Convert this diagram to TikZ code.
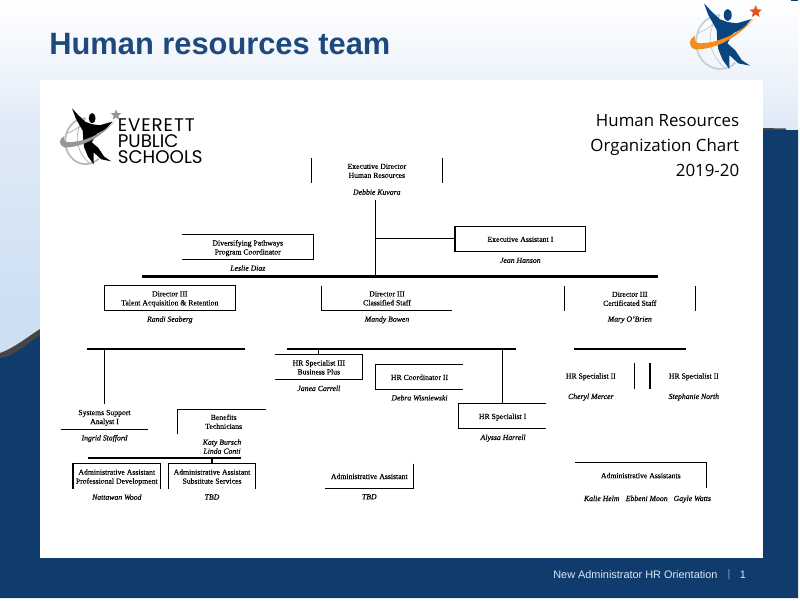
\documentclass[tikz,border=0pt]{standalone}
\usepackage{fontspec}
\usepackage{tikz}
\usetikzlibrary{calc,shapes.geometric}
\setmainfont{Liberation Serif}[FakeBold=0.25]
\newfontfamily\slidefont{Liberation Sans}
\newfontfamily\chartfont{Open Sans}
\newfontfamily\logofont{Poppins}

\definecolor{slideblue}{RGB}{15,60,108}
\definecolor{titleblue}{RGB}{31,73,125}
\definecolor{bandgrey}{RGB}{70,70,72}
\definecolor{footerwhite}{RGB}{222,232,244}
\definecolor{footerbar}{RGB}{110,165,220}
\definecolor{logoblue}{RGB}{10,70,125}
\definecolor{logoorange}{RGB}{245,140,30}
\definecolor{logostar}{RGB}{225,85,35}
\definecolor{globegrey}{RGB}{195,207,218}
\definecolor{sheetgrey}{RGB}{185,185,185}
\definecolor{inkgrey}{RGB}{150,150,150}
\definecolor{skyA}{RGB}{205,224,243}
\definecolor{skyB}{RGB}{224,234,246}
\definecolor{skyC}{RGB}{237,243,251}

\pgfdeclareverticalshading{slidesky}{100bp}{
  color(0bp)=(skyA);
  color(33bp)=(skyA);
  color(58bp)=(skyB);
  color(64bp)=(skyC);
  color(75bp)=(white);
  color(100bp)=(white)}

\tikzset{
  orgline/.style={black,line width=0.65pt},
  mainbar/.style={black,line width=1.7pt},
  subbar/.style={black,line width=1.2pt},
  orgbox/.style={minimum width=2.6cm,minimum height=0.49cm,inner sep=0pt,align=center,
    text depth=0pt,font=\fontsize{4.4}{5.1}\selectfont},
  smallbox/.style={orgbox,minimum width=1.74cm},
  person/.style={inner sep=0pt,align=center,text depth=0pt,
    font=\fontsize{4.4}{5.1}\selectfont\itshape}
}

% Logo mark: figure, swoosh, globe
\newcommand{\logomark}[3]{
  \draw[#3,line width=1pt] (16,12) arc[start angle=270,end angle=50,x radius=24,y radius=27];
  \draw[#3,line width=0.5pt] (16,12) .. controls (2,25) and (2,50) .. (22,66);
  \draw[#3,line width=0.5pt] (-6,30) .. controls (4,26) and (10,22) .. (16,12);
  \fill[#1] (23.7,12) ellipse (4 and 6);
  \fill[#1] (0,0.3) -- (7.7,8.7) -- (16,16.3) -- (23.3,19) -- (32.7,20.3) -- (47.7,16)
    -- (39.3,25.3) -- (29.3,30.3) -- (23.3,40.3) -- (31,47) -- (37.7,57) -- (46,62.7)
    -- (34.3,60.3) -- (25.3,52) -- (25.3,66) -- (18.7,57) -- (14.3,46.3) -- (13.3,38.7)
    -- (12.7,27) -- (4.3,12) -- cycle;
  \fill[#2] (-9,33) .. controls (-16,36) and (-16,44) .. (-9,46.3)
    .. controls (15,47) and (38,30) .. (50.3,15.3)
    .. controls (36,30) and (15,40) .. (-4,40.3)
    .. controls (-9,40) and (-10,37) .. (-9,33) -- cycle;
}

\begin{document}
\begin{tikzpicture}[x=0.02cm,y=-0.02cm]

\useasboundingbox (0,0) rectangle (800,600);

% Slide background
\shade[shading=slidesky] (0,0) rectangle (798,360);
\fill[bandgrey] (0,353) .. controls (14,348) and (26,338) .. (40,329) -- (300,200)
  -- (763,128) -- (786,128.5) -- (786,140) -- (0,370) -- cycle;
\fill[slideblue] (0,358) .. controls (14,357) and (26,344) .. (40,335.5) -- (300,205)
  -- (763,130) -- (798,130) -- (798,598) -- (0,598) -- cycle;
\fill[slideblue] (791,0) rectangle (798,1);

% Slide title and footer
\node[anchor=west,inner sep=0pt,text=titleblue,font=\slidefont\bfseries\fontsize{17.55}{20}\selectfont]
  (slideTitle) at (49,44.5) {Human resources team};
\node[anchor=west,inner sep=0pt,text=footerwhite,font=\slidefont\fontsize{6.2}{7}\selectfont]
  (footerText) at (553,575) {New Administrator HR Orientation};
\node[inner sep=0pt,text=footerbar,font=\slidefont\fontsize{6.2}{7}\selectfont]
  (footerBar) at (729,575) {|};
\node[inner sep=0pt,text=footerwhite,font=\slidefont\fontsize{6.2}{7}\selectfont]
  (footerPage) at (743,575) {1};

% Slide logo
\begin{scope}[shift={(704,3)}]
\logomark{logoblue}{logoorange}{globegrey}
\end{scope}
\node[star,star points=5,star point ratio=2.2,fill=logostar,minimum size=0.26cm,inner sep=0pt]
  (slideStar) at (755.7,11.7) {};

% Chart sheet
\fill[white] (40,80) rectangle (763,558);

% Sheet logo
\begin{scope}[shift={(72,108)},scale=0.85]
\logomark{black}{inkgrey}{sheetgrey}
\end{scope}
\node[star,star points=5,star point ratio=2.2,fill=inkgrey,minimum size=0.22cm,inner sep=0pt]
  (sheetStar) at (116,115) {};
\node[anchor=west,inner sep=0pt,font=\logofont\fontsize{10.4}{10}\addfontfeature{LetterSpace=5}\selectfont] (logoA) at (117.5,125) {EVERETT};
\node[anchor=west,inner sep=0pt,font=\logofont\fontsize{10.4}{10}\selectfont] (logoB) at (117.5,141.5) {PUBLIC};
\node[anchor=west,inner sep=0pt,font=\logofont\fontsize{10.4}{10}\selectfont] (logoC) at (117.5,157.5) {SCHOOLS};

% Sheet heading
\node[anchor=north east,inner sep=0pt,align=right,font=\chartfont\fontsize{9.6}{14.2}\selectfont]
  (sheetTitle) at (739.5,114) {Human Resources\\Organization Chart\\2019-20};

% Bars
\coordinate (mainL) at (142,276.3);
\coordinate (mainR) at (658,276.3);
\coordinate (talentL) at (87,349);
\coordinate (talentR) at (245,349);
\coordinate (classL) at (287,349);
\coordinate (classR) at (516,349);
\coordinate (certL) at (574,349);
\coordinate (certR) at (686,349);
\coordinate (adminL) at (88,457.7);
\coordinate (adminR) at (241,457.7);
\draw[mainbar] (mainL)--(mainR);
\draw[subbar] (talentL)--(talentR);
\draw[subbar] (classL)--(classR);
\draw[subbar] (certL)--(certR);
\draw[subbar] (adminL)--(adminR);

% Executive level
\node[orgbox] (execDir) at (376.8,170.8) {Executive Director\\Human Resources};
\node[person] (execName) at (376.8,192) {Debbie Kuvara};
\node[orgbox] (execAsst) at (520.3,239.3) {Executive Assistant I};
\node[person] (asstName) at (520.3,260.3) {Jean Hanson};
\node[orgbox] (pathways) at (247.8,247.3) {Diversifying Pathways\\Program Coordinator};
\node[person] (pathName) at (247.8,268) {Leslie Diaz};
\coordinate (execDrop) at (375.3,200);
\coordinate (execJoin) at (375.3,238.3);
\draw[orgline] (execDir.north west)--(execDir.south west);
\draw[orgline] (execDir.north east)--(execDir.south east);
\draw[orgline] (execAsst.north west) rectangle (execAsst.south east);
\draw[orgline] (pathways.north west)--(pathways.north east)--(pathways.south east)--(pathways.south west);
\draw[orgline] (execDrop)--(execDrop |- mainL);
\draw[orgline] (execJoin)--(execJoin -| execAsst.west);

% Directors
\node[orgbox] (dirTalent) at (169.8,298.3) {Director III\\Talent Acquisition \& Retention};
\node[person] (talentName) at (169.8,319) {Randi Seaberg};
\node[orgbox] (dirClass) at (387,298.3) {Director III\\Classified Staff};
\node[person] (className) at (387,319) {Mandy Bowen};
\node[orgbox] (dirCert) at (629.8,298.8) {Director III\\Certificated Staff};
\node[person] (certName) at (629.8,319) {Mary O'Brien};
\draw[orgline] (dirTalent.north west) rectangle (dirTalent.south east);
\draw[orgline] (dirClass.north west)--(dirClass.south west)--(dirClass.south east);
\draw[orgline] (dirCert.north west)--(dirCert.south west);
\draw[orgline] (dirCert.north east)--(dirCert.south east);

% Talent acquisition staff
\node[smallbox] (sysSupport) at (104.5,417) {Systems Support\\Analyst I};
\node[person] (sysName) at (104.5,437.7) {Ingrid Stafford};
\node[smallbox] (benefits) at (221.7,421.7) {\hspace*{1.1ex}Benefits\\\hspace*{1.1ex}Technicians};
\node[person] (benefitsName) at (222,446.5) {Katy Bursch\\Linda Conti};
\node[smallbox] (adminPro) at (116.8,476.5) {Administrative Assistant\\Professional Development};
\node[person] (proName) at (116.8,497) {Nattawan Wood};
\node[smallbox] (adminSub) at (212,476.5) {Administrative Assistant\\Substitute Services};
\node[person] (subName) at (212,497) {TBD};
\draw[orgline] (sysSupport.north |- talentL)--(sysSupport.north);
\draw[orgline] (sysSupport.south west)--(sysSupport.south east);
\draw[orgline] (benefits.south west)--(benefits.north west)--(benefits.north east);
\draw[orgline] (adminSub.north |- adminL)--(adminSub.north);
\draw[orgline] (adminPro.south west)--(adminPro.north west)--(adminPro.north east)--(adminPro.south east);
\draw[orgline] (adminSub.south west)--(adminSub.north west)--(adminSub.north east)--(adminSub.south east);

% Classified staff
\node[smallbox] (specThree) at (318.8,367.3) {HR Specialist III\\Business Plus};
\node[person] (specThreeName) at (318.8,388.3) {Janea Carrell};
\node[smallbox] (coord) at (419.5,377.3) {HR Coordinator II};
\node[person] (coordName) at (419.5,397.7) {Debra Wisniewski};
\node[smallbox] (specOne) at (502.6,416.3) {HR Specialist I};
\node[person] (specOneName) at (503.1,437.3) {Alyssa Harrell};
\node[smallbox] (adminClass) at (369.3,476.3) {Administrative Assistant};
\node[person] (adminClassName) at (369.3,496.7) {TBD};
\draw[orgline] (specThree.north |- classL)--(specThree.north);
\draw[orgline] (specThree.north west)--(specThree.north east)--(specThree.south east)--(specThree.south west);
\draw[orgline] (coord.north east)--(coord.north west)--(coord.south west)--(coord.south east);
\draw[orgline] (specOne.north |- classL)--(specOne.north);
\draw[orgline] (specOne.north east)--(specOne.north west)--(specOne.south west)--(specOne.south east);
\draw[orgline] (adminClass.north east)--(adminClass.south east)--(adminClass.south west);

% Certificated staff
\node[smallbox] (specLeft) at (590.8,375.9) {HR Specialist II};
\node[person] (specLeftName) at (590.8,396.3) {Cheryl Mercer};
\node[smallbox] (specRight) at (693.8,375.9) {HR Specialist II};
\node[person] (specRightName) at (693.8,396.3) {Stephanie North};
\node[orgbox] (adminCert) at (640.8,475.5) {Administrative Assistants};
\node[person] (kalieName) at (601.7,498.3) {Kalie Helm};
\node[person] (ebbeniName) at (646.7,498.3) {Ebbeni Moon};
\node[person] (gayleName) at (692.3,498.3) {Gayle Watts};
\draw[orgline] (specLeft.north east)--(specLeft.south east);
\draw[orgline] (specRight.north west)--(specRight.south west);
\draw[orgline] (adminCert.north west)--(adminCert.north east)--(adminCert.south east);

\end{tikzpicture}
\end{document}
